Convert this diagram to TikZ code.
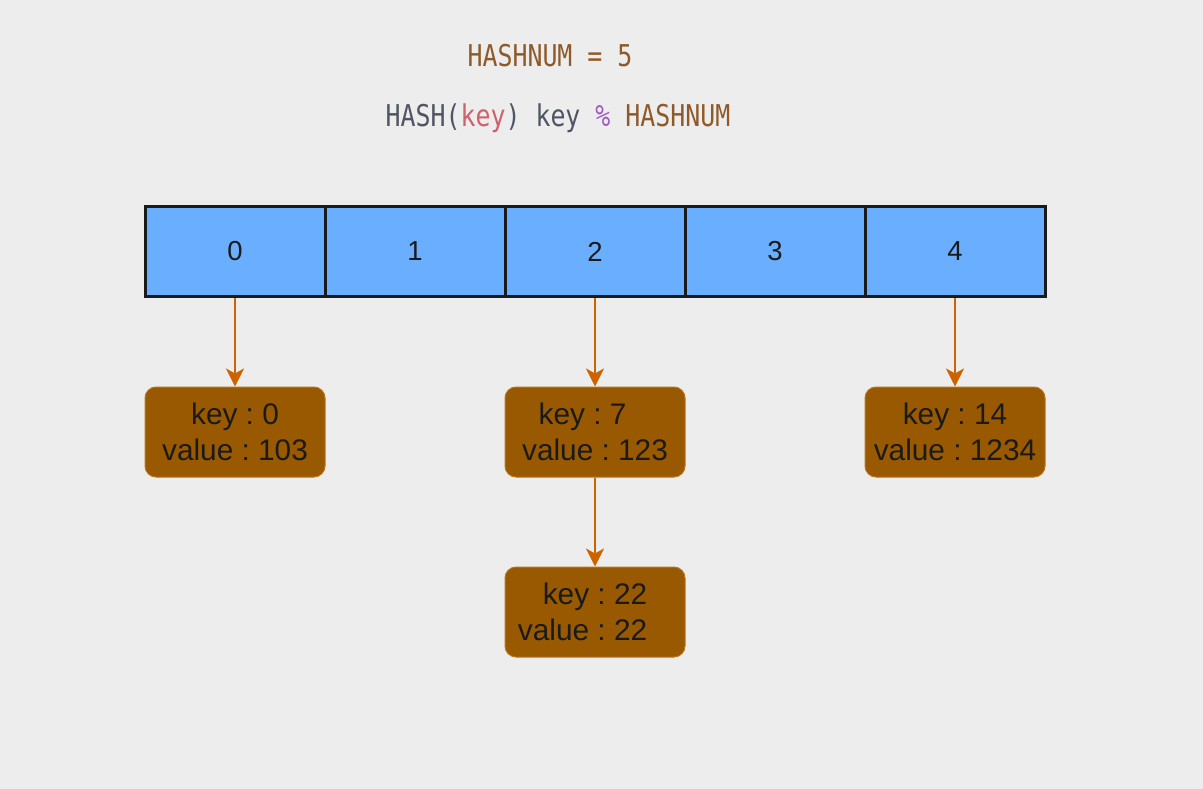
\documentclass[tikz,border=0pt]{standalone}
\usepackage{fontspec}
\setmainfont{Liberation Sans}
\newfontfamily\codefont[FakeStretch=0.83]{DejaVu Sans Mono}
\usetikzlibrary{arrows.meta}
\frenchspacing
\definecolor{bg}{HTML}{EDEDED}
\definecolor{cellblue}{HTML}{6AAFFF}
\definecolor{boxfill}{HTML}{995900}
\definecolor{boxline}{HTML}{B8761D}
\definecolor{arrowc}{HTML}{CC6300}
\definecolor{codebrown}{HTML}{8F5A2A}
\definecolor{codegray}{HTML}{4F5563}
\definecolor{codered}{HTML}{D0616C}
\definecolor{codepurple}{HTML}{A35BC4}
\definecolor{txt}{HTML}{1A1A1A}
\tikzset{
  cell/.style={draw=txt, line width=3pt, fill=cellblue, minimum width=180pt, minimum height=90pt, inner sep=0pt, text=txt, font=\fontsize{27.5}{30}\selectfont},
  entry/.style={draw=boxline, line width=1pt, fill=boxfill, rounded corners=11pt, minimum width=180pt, minimum height=90pt, inner sep=0pt, text=txt, align=center, font=\fontsize{29.8}{36}\selectfont},
  link/.style={draw=arrowc, line width=2.2pt, -{Stealth[length=18pt,width=18pt,inset=5pt]}},
  code/.style={inner sep=0pt, anchor=base, font=\codefont\fontsize{30}{36}\selectfont}
}
\begin{document}
\begin{tikzpicture}[x=1pt,y=-1pt]
\fill[bg] (0,0) rectangle (1203,789);
\useasboundingbox (0,0) rectangle (1203,789);
\node[code, text=codebrown] (t1) at (550,67) {HASHNUM = 5};
\node[code] (t2) at (558,127) {\textcolor{codegray}{HASH(}\textcolor{codered}{key}\textcolor{codegray}{)\ key\ }\textcolor{codepurple}{\%}\textcolor{codebrown}{\ HASHNUM}};
\node[cell] (c0) at (235,251.5) {0};
\node[cell] (c1) at (415,251.5) {1};
\node[cell] (c2) at (595,251.5) {2};
\node[cell] (c3) at (775,251.5) {3};
\node[cell] (c4) at (955,251.5) {4};
\node[entry] (e0) at (235,432) {key : 0\\value : 103};
\node[entry] (e1) at (595,432) {key : 7\hphantom{ 0}\\value : 123};
\node[entry] (e2) at (955,432) {key : 14\\value : 1234};
\node[entry] (e3) at (595,612) {key : 22\\value : 22\hphantom{ 0}};
\draw[link] (c0.south) -- (e0.north);
\draw[link] (c2.south) -- (e1.north);
\draw[link] (c4.south) -- (e2.north);
\draw[link] (e1.south) -- (e3.north);
\end{tikzpicture}
\end{document}
